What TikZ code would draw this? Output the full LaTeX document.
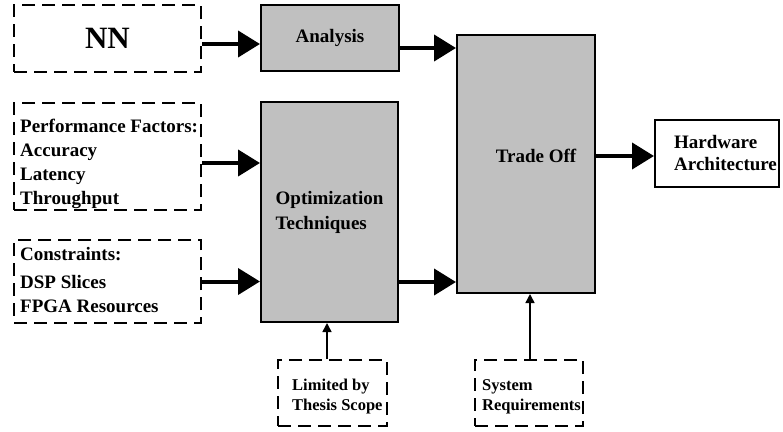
\documentclass[tikz,border=0pt]{standalone}
\usepackage{fontspec}
\setmainfont{Liberation Serif}
\usetikzlibrary{arrows.meta}
\definecolor{boxgray}{RGB}{192,192,192}
\tikzset{
  dashbox/.style={draw=black, line width=2pt, dash pattern=on 13pt off 7pt, rectangle, inner sep=0pt},
  solidbox/.style={draw=black, line width=2pt, rectangle, inner sep=0pt},
  graybox/.style={solidbox, fill=boxgray},
  txt/.style={font=\bfseries\fontsize{19}{24}\selectfont},
  smalltxt/.style={font=\bfseries\fontsize{16.5}{20}\selectfont, align=left, inner sep=0pt},
  bigarrow/.style={line width=4pt, -{Triangle[length=22pt,width=26pt]}},
  thinarrow/.style={line width=1.5pt, -{Triangle[length=9pt,width=9pt]}}
}
\begin{document}
\begin{tikzpicture}[x=1pt,y=-1pt]
\useasboundingbox (0,0) rectangle (783,431);

% input boxes on the left
\node[dashbox, minimum width=187pt, minimum height=67pt,
      font=\bfseries\fontsize{31}{32}\selectfont] (nn) at (107.5,38.5) {NN};
\node[dashbox, minimum width=187pt, minimum height=107pt] (perf) at (107.5,156.5) {};
\node[txt, anchor=west, align=left, inner sep=0pt] (perftext) at (20,164)
  {Performance Factors:\\Accuracy\\Latency\\Throughput};
\node[dashbox, minimum width=187pt, minimum height=83pt] (cons) at (107.5,281.5) {};
\node[txt, anchor=west, align=left, inner sep=0pt] (constext) at (20,280)
  {Constraints:\\[4pt]DSP Slices\\FPGA Resources};

% processing blocks
\node[graybox, txt, minimum width=138pt, minimum height=66pt] (ana) at (330,38) {Analysis};
\node[graybox, txt, minimum width=137pt, minimum height=220pt, align=left,
      font=\bfseries\fontsize{19}{25}\selectfont] (opt) at (329.5,212)
  {Optimization\\Techniques};
\node[graybox, minimum width=138pt, minimum height=258pt] (trade) at (526,164) {};
\node[txt] (tradetext) at (536,156) {Trade Off};

% output
\node[solidbox, fill=white, minimum width=124pt, minimum height=67pt] (hw) at (717,153.5) {};
\node[txt, anchor=west, align=left, inner sep=0pt,
      font=\bfseries\fontsize{19}{22}\selectfont] (hwtext) at ([xshift=20pt]hw.west)
  {Hardware\\Architecture};

% side conditions below
\node[dashbox, minimum width=109pt, minimum height=66pt] (lim) at (332.5,393) {};
\node[smalltxt, anchor=west] (limtext) at (292,397) {Limited by\\Thesis Scope};
\node[dashbox, minimum width=108pt, minimum height=66pt] (sys) at (529,393) {};
\node[smalltxt, anchor=west] (systext) at (482,397) {System\\Requirements};

% main flow
\draw[bigarrow] ([yshift=-5.5pt]nn.east) -- ([yshift=-5.5pt]nn.east -| ana.west);
\draw[bigarrow] ([yshift=-10pt]ana.east) -- ([yshift=-10pt]ana.east -| trade.west);
\draw[bigarrow] ([yshift=-6.5pt]perf.east) -- ([yshift=-6.5pt]perf.east -| opt.west);
\draw[bigarrow] (cons.east) -- (cons.east -| opt.west);
\draw[bigarrow] ([yshift=-70pt]opt.east) -- ([yshift=-70pt]opt.east -| trade.west);
\draw[bigarrow] ([yshift=8pt]trade.east) -- ([yshift=8pt]trade.east -| hw.west);

% influences from below
\draw[thinarrow] ([xshift=-5.5pt]lim.north) -- ([xshift=-5.5pt]lim.north |- opt.south);
\draw[thinarrow] ([xshift=1pt]sys.north) -- ([xshift=1pt]sys.north |- trade.south);
\end{tikzpicture}
\end{document}
